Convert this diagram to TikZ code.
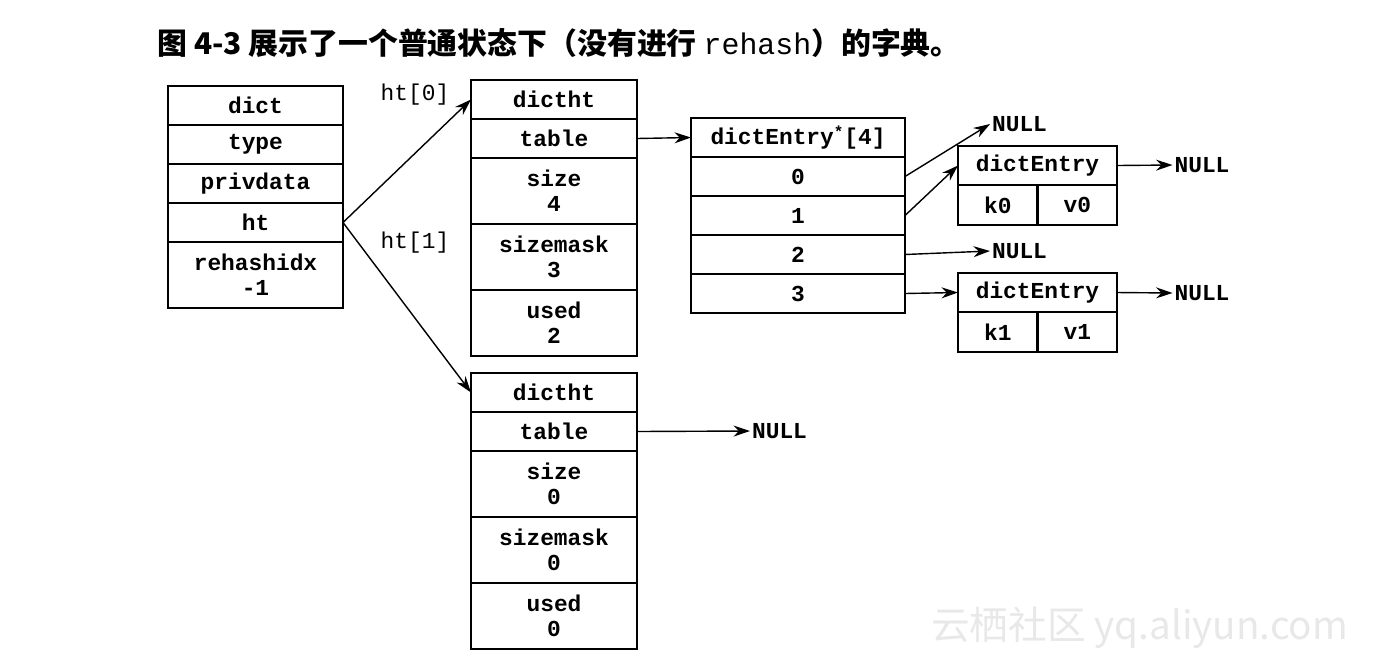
\documentclass[tikz,border=0pt]{standalone}
\usepackage{fontspec}
\setmonofont{Liberation Mono}
\newfontfamily\cjk{Noto Sans CJK SC}
\usetikzlibrary{arrows.meta,positioning}

\begin{document}
\begin{tikzpicture}[>={Stealth[length=3.3mm,width=2.2mm]},
  font=\ttfamily\bfseries\fontsize{13}{14}\selectfont,
  cell/.style={draw, line width=1.5pt, inner sep=0pt, outer sep=0pt, align=center, minimum height=0.78cm},
  tall/.style={cell, minimum height=1.32cm},
  nul/.style={inner sep=1pt, anchor=west},
  ptr/.style={->, line width=0.8pt}]
\useasboundingbox (0,0) rectangle (28,-13.18);
\node[anchor=west, inner sep=0pt, font=\cjk\bfseries\fontsize{17}{19}\selectfont] (title) at (3.14,-0.87)
  {图 4-3 展示了一个普通状态下（没有进行 {\ttfamily\mdseries rehash}）的字典。};
% dict
\node[cell, minimum width=3.5cm, anchor=north] (dict) at (5.11,-1.72) {dict};
\node[cell, minimum width=3.5cm, below=0pt of dict] (type) {type};
\node[cell, minimum width=3.5cm, below=0pt of type] (priv) {privdata};
\node[cell, minimum width=3.5cm, below=0pt of priv] (ht) {ht};
\node[tall, minimum width=3.5cm, below=0pt of ht] (rehash) {rehashidx\\-1};
% ht[0]
\node[cell, minimum width=3.32cm, anchor=north] (d0h) at (11.08,-1.6) {dictht};
\node[cell, minimum width=3.32cm, below=0pt of d0h] (d0t) {table};
\node[tall, minimum width=3.32cm, below=0pt of d0t] (d0s) {size\\4};
\node[tall, minimum width=3.32cm, below=0pt of d0s] (d0m) {sizemask\\3};
\node[tall, minimum width=3.32cm, below=0pt of d0m] (d0u) {used\\2};
% ht[1]
\node[cell, minimum width=3.32cm, anchor=north] (d1h) at (11.08,-7.46) {dictht};
\node[cell, minimum width=3.32cm, below=0pt of d1h] (d1t) {table};
\node[tall, minimum width=3.32cm, below=0pt of d1t] (d1s) {size\\0};
\node[tall, minimum width=3.32cm, below=0pt of d1s] (d1m) {sizemask\\0};
\node[tall, minimum width=3.32cm, below=0pt of d1m] (d1u) {used\\0};
% table array
\node[cell, minimum width=4.28cm, anchor=north] (arr) at (15.96,-2.36) {dictEntry\textsuperscript{*}[4]};
\node[cell, minimum width=4.28cm, below=0pt of arr] (a0) {0};
\node[cell, minimum width=4.28cm, below=0pt of a0] (a1) {1};
\node[cell, minimum width=4.28cm, below=0pt of a1] (a2) {2};
\node[cell, minimum width=4.28cm, below=0pt of a2] (a3) {3};
% entries
\node[cell, minimum width=3.18cm, anchor=north] (e0) at (20.75,-2.92) {dictEntry};
\node[cell, minimum width=1.59cm, minimum height=0.8cm, below right=0pt and 0pt of e0.south west] (k0) {k0};
\node[cell, minimum width=1.59cm, minimum height=0.8cm, right=0pt of k0] (v0) {v0};
\node[cell, minimum width=3.18cm, anchor=north] (e1) at (20.75,-5.46) {dictEntry};
\node[cell, minimum width=1.59cm, minimum height=0.8cm, below right=0pt and 0pt of e1.south west] (k1) {k1};
\node[cell, minimum width=1.59cm, minimum height=0.8cm, right=0pt of k1] (v1) {v1};
% NULLs
\node[nul] (n0) at (19.8,-2.48) {NULL};
\node[nul] (n0e) at (23.45,-3.3) {NULL};
\node[nul] (n2) at (19.8,-5.02) {NULL};
\node[nul] (n1e) at (23.45,-5.86) {NULL};
\node[nul] (nt1) at (15.0,-8.62) {NULL};
% labels
\node (l0) at (8.3,-1.9) {\mdseries ht[0]};
\node (l1) at (8.3,-4.86) {\mdseries ht[1]};
% pointers
\draw[ptr] (ht.east) -- (d0h.west);
\draw[ptr] (ht.east) -- (d1h.west);
\draw[ptr] (d0t.east) -- (arr.west);
\draw[ptr] (d1t.east) -- (nt1.west);
\draw[ptr] (a0.east) -- (n0.west);
\draw[ptr] (a1.east) -- (e0.west);
\draw[ptr] (a2.east) -- (n2.west);
\draw[ptr] (a3.east) -- (e1.west);
\draw[ptr] (e0.east) -- (n0e.west);
\draw[ptr] (e1.east) -- (n1e.west);
% watermark
\node[anchor=west, text=black!9, font=\cjk\fontsize{22}{24}\selectfont] (wm) at (18.5,-12.56) {云栖社区 yq.aliyun.com};
\end{tikzpicture}
\end{document}
